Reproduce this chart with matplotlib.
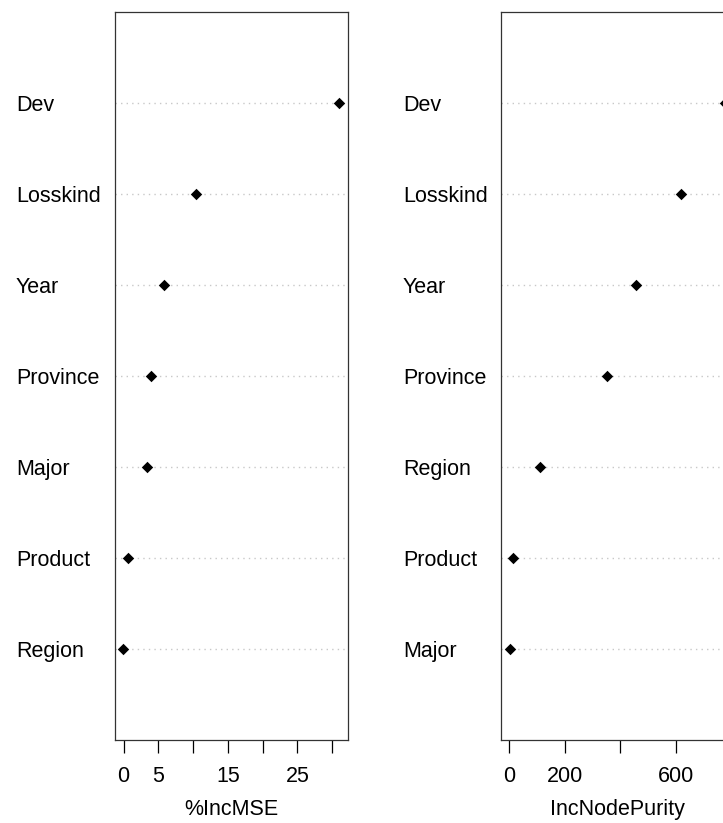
import matplotlib
matplotlib.use("Agg")
import matplotlib.pyplot as plt
import matplotlib.transforms as mtransforms

plt.rcParams['font.family'] = ['Liberation Sans', 'DejaVu Sans']

# variable importance from the random forest fit (top to bottom order)
mse_vars = ['Dev', 'Losskind', 'Year', 'Province', 'Major', 'Product', 'Region']
mse_vals = [31.0, 10.4, 5.8, 4.0, 3.4, 0.65, -0.05]
mse_ticks = [0, 5, 10, 15, 20, 25, 30]
mse_ticklabels = ['0', '5', '', '15', '', '25', '']

purity_vars = ['Dev', 'Losskind', 'Year', 'Province', 'Region', 'Product', 'Major']
purity_vals = [780, 618, 458, 353, 109, 13, 1]
purity_ticks = [0, 200, 400, 600, 800]
purity_ticklabels = ['0', '200', '', '600', '']

W, H = 723, 823
FS = 15.5
fig = plt.figure(figsize=(W / 100, H / 100), dpi=100)


def dotpanel(left_px, label_px, names, vals, ticks, ticklabels, xlabel):
    box_w = 233
    ax = fig.add_axes([left_px / W, (H - 740) / H, box_w / W, 728 / H])
    n = len(names)
    ys = list(range(n, 0, -1))
    lo, hi = min(vals), max(vals)
    pad = 0.04 * (hi - lo)
    ax.set_xlim(lo - pad, hi + pad)
    ax.set_ylim(0, n + 1)
    for y in ys:
        ax.axhline(y, color='#c8c8c8', linestyle=(0, (1, 3)), linewidth=1.0, zorder=1)
    ax.scatter(vals, ys, marker='D', s=34, color='black', zorder=3, linewidths=0)
    ax.set_yticks([])
    ax.set_xticks(ticks)
    ax.set_xticklabels(ticklabels, fontsize=FS)
    ax.tick_params(axis='x', direction='out', length=9.5, width=0.9, pad=9)
    for sp in ax.spines.values():
        sp.set_linewidth(0.9)
        sp.set_color('#333333')
    ax.set_xlabel(xlabel, fontsize=FS, labelpad=9)
    trans = mtransforms.blended_transform_factory(fig.transFigure, ax.transData)
    for name, y in zip(names, ys):
        ax.text(label_px / W, y, name, transform=trans, ha='left', va='center_baseline',
                fontsize=FS, clip_on=False)
    return ax


dotpanel(114.7, 16, mse_vars, mse_vals, mse_ticks, mse_ticklabels, '%IncMSE')
dotpanel(501, 403, purity_vars, purity_vals, purity_ticks, purity_ticklabels, 'IncNodePurity')

fig.savefig('out.png', dpi=100)
